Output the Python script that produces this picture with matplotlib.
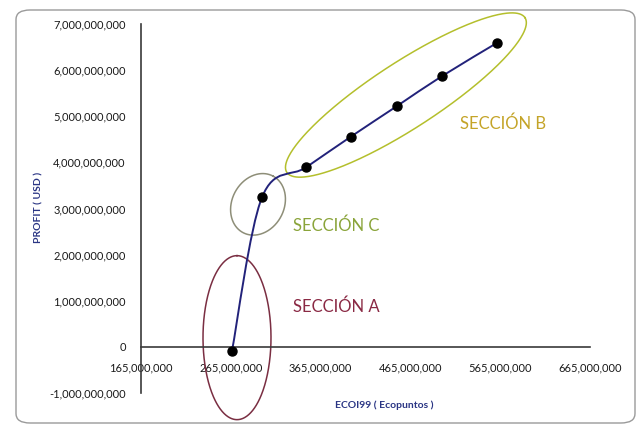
import numpy as np
import matplotlib
matplotlib.use("Agg")
import matplotlib.pyplot as plt
from matplotlib.path import Path
from matplotlib.patches import PathPatch, FancyBboxPatch

# Eco-indicator 99 score vs. profit for each design alternative
ecopoints = [266.3e6, 299.7e6, 348.7e6, 398.9e6, 450.0e6, 500.2e6, 561.4e6]
profit_usd = [-0.09e9, 3.24e9, 3.89e9, 4.56e9, 5.22e9, 5.87e9, 6.59e9]

x_ticks = [165e6, 265e6, 365e6, 465e6, 565e6, 665e6]
y_ticks = [-1e9, 0, 1e9, 2e9, 3e9, 4e9, 5e9, 6e9, 7e9]

section_names = ["SECCIÓN A", "SECCIÓN B", "SECCIÓN C"]

plt.rcParams["font.family"] = ["Lato", "DejaVu Sans"]

fig = plt.figure(figsize=(6.38, 4.26), dpi=100)
fig.patch.set_facecolor("white")
ax = fig.add_axes([141 / 638, 1 - 393 / 426, 449 / 638, 369 / 426])
ax.set_xlim(165e6, 665e6)
ax.set_ylim(-1e9, 7e9)

# chart frame with rounded corners
frame = FancyBboxPatch((16 / 638, 1 - 423 / 426), 619 / 638, 413 / 426,
                       boxstyle="round,pad=0,rounding_size=0.022",
                       transform=fig.transFigure, fill=False,
                       edgecolor="#9a9a9a", linewidth=1.0, zorder=0)
fig.patches.append(frame)

for s in ["top", "right"]:
    ax.spines[s].set_visible(False)
ax.spines["bottom"].set_position(("data", 0))
for s in ["left", "bottom"]:
    ax.spines[s].set_color("#3a3a3a")
    ax.spines[s].set_linewidth(1.2)

ax.set_xticks(x_ticks)
ax.set_yticks(y_ticks)
ax.set_xticklabels([f"{int(v):,}" for v in x_ticks])
ax.set_yticklabels([f"{int(v):,}" for v in y_ticks])
ax.tick_params(axis="both", length=0, labelsize=8, colors="#1a1a1a")
ax.tick_params(axis="x", pad=11)
ax.tick_params(axis="y", pad=11)

# smoothed connecting line (cubic Bezier segments, Catmull-Rom style tangents)
pts = np.column_stack([ecopoints, profit_usd])
n = len(pts)
verts = [tuple(pts[0])]
codes = [Path.MOVETO]
for i in range(n - 1):
    p0 = pts[i - 1] if i > 0 else pts[i]
    p1 = pts[i]
    p2 = pts[i + 1]
    p3 = pts[i + 2] if i + 2 < n else pts[i + 1]
    c1 = p1 + (p2 - p0) / 6.0
    c2 = p2 - (p3 - p1) / 6.0
    verts += [tuple(c1), tuple(c2), tuple(p2)]
    codes += [Path.CURVE4] * 3
ax.add_patch(PathPatch(Path(verts, codes), facecolor="none",
                       edgecolor="#22227a", linewidth=1.4, zorder=3))
ax.plot(ecopoints, profit_usd, linestyle="none", marker="o", markersize=6.5,
        color="black", zorder=4, clip_on=False)

fig.canvas.draw()


def ring(center, semi_major, semi_minor, angle_deg, color):
    cx, cy = ax.transData.transform(center)
    t = np.linspace(0, 2 * np.pi, 400)
    a = np.deg2rad(angle_deg)
    ex = semi_major * np.cos(t)
    ey = semi_minor * np.sin(t)
    px = cx + ex * np.cos(a) - ey * np.sin(a)
    py = cy + ex * np.sin(a) + ey * np.cos(a)
    data = ax.transData.inverted().transform(np.column_stack([px, py]))
    ax.plot(data[:, 0], data[:, 1], color=color, linewidth=1.1,
            clip_on=False, zorder=2)


ring((271.9e6, 0.2e9), 82, 34, 90, "#7a2e42")
ring((295.3e6, 3.09e9), 32, 26, 62, "#8e8e78")
ring((460e6, 5.46e9), 142, 33, 33, "#b4bf2c")

ax.text(382.7e6, 0.87e9, section_names[0], color="#8a2944", fontsize=12,
        ha="center", va="center")
ax.text(568e6, 4.83e9, section_names[1], color="#c4a428", fontsize=12,
        ha="center", va="center")
ax.text(382.7e6, 2.63e9, section_names[2], color="#8aa43a", fontsize=12,
        ha="center", va="center")

fig.text(39 / 638, 1 - 207 / 426, "PROFIT ( USD )", rotation=90,
         ha="center", va="center", fontsize=7.5, fontweight="bold",
         color="#2a3584")
fig.text(384 / 638, 1 - 405 / 426, "ECOI99 ( Ecopuntos )",
         ha="center", va="center", fontsize=7.5, fontweight="bold",
         color="#2a3584")

fig.savefig("out.png", dpi=100)
